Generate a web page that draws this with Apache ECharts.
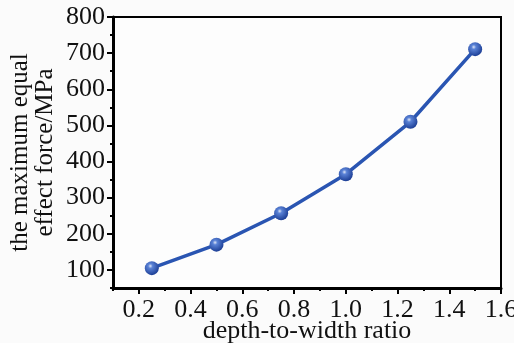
<!DOCTYPE html>
<html>
<head>
<meta charset="utf-8">
<script src="https://cdn.jsdelivr.net/npm/echarts@6/dist/echarts.min.js"></script>
<style>
  html, body { margin: 0; padding: 0; background: #fbfbfb; }
  #chart { width: 514px; height: 343px; }
</style>
</head>
<body>
<div id="chart"></div>
<script>
// depth-to-width ratio vs max equal effect force
var ratios = [0.25, 0.5, 0.75, 1.0, 1.25, 1.5];
var forces = [105, 170, 257, 365, 510, 711];
var xMajorTicks = [0.2, 0.4, 0.6, 0.8, 1.0, 1.2, 1.4, 1.6];
var yMajorTicks = [100, 200, 300, 400, 500, 600, 700, 800];

var font = 'Liberation Serif';
var myChart = echarts.init(document.getElementById('chart'));

var points = ratios.map(function (r, i) { return [r, forces[i]]; });

option = {
    backgroundColor: '#fbfbfb',
    animation: false,
    grid: {
        left: 113, right: 13, top: 17, bottom: 55,
        outerBoundsMode: 'none',
        show: true,
        borderColor: '#000',
        borderWidth: 2,
        backgroundColor: '#fdfdfd'
    },
    xAxis: [{
        type: 'value',
        min: 0.1, max: 1.6, interval: 0.1,
        position: 'bottom',
        name: 'depth-to-width ratio',
        nameLocation: 'middle',
        nameGap: 30,
        nameMoveOverlap: false,
        nameTextStyle: { fontFamily: font, fontSize: 26, color: '#111' },
        axisLine: { onZero: false, lineStyle: { color: '#000', width: 3 } },
        axisTick: { length: 3, lineStyle: { color: '#000', width: 2 } },
        axisLabel: {
            margin: 9,
            fontFamily: font, fontSize: 26, color: '#111',
            formatter: function (v) {
                var k = Math.round(v * 10);
                return k % 2 === 0 ? (k / 10).toFixed(1) : '';
            }
        },
        splitLine: { show: false }
    }, {
        // major ticks only
        type: 'value',
        min: 0.1, max: 1.6,
        position: 'bottom',
        axisLine: { show: false, onZero: false },
        axisTick: { customValues: xMajorTicks, length: 6, lineStyle: { color: '#000', width: 2 } },
        axisLabel: { show: false },
        splitLine: { show: false }
    }],
    yAxis: [{
        type: 'value',
        min: 50, max: 800, interval: 50,
        position: 'left',
        name: 'the maximum equal\neffect force/MPa',
        nameLocation: 'middle',
        nameGap: 55,
        nameMoveOverlap: false,
        nameTextStyle: { fontFamily: font, fontSize: 25, color: '#111', lineHeight: 25 },
        axisLine: { onZero: false, lineStyle: { color: '#000', width: 3 } },
        axisTick: { length: 3, lineStyle: { color: '#000', width: 2 } },
        axisLabel: {
            margin: 8,
            fontFamily: font, fontSize: 26, color: '#111',
            formatter: function (v) {
                return v % 100 === 0 ? String(v) : '';
            }
        },
        splitLine: { show: false }
    }, {
        type: 'value',
        min: 50, max: 800,
        position: 'left',
        axisLine: { show: false, onZero: false },
        axisTick: { customValues: yMajorTicks, length: 6, lineStyle: { color: '#000', width: 2 } },
        axisLabel: { show: false },
        splitLine: { show: false }
    }],
    series: [{
        type: 'line',
        xAxisIndex: 0,
        yAxisIndex: 0,
        data: points,
        symbol: 'circle',
        symbolSize: 14,
        lineStyle: { color: '#2a55b2', width: 3.5 },
        itemStyle: {
            color: new echarts.graphic.RadialGradient(0.4, 0.35, 0.65, [
                { offset: 0, color: '#dfe6f7' },
                { offset: 0.25, color: '#5a82d6' },
                { offset: 1, color: '#1d3f96' }
            ]),
            borderWidth: 0
        }
    }]
};
myChart.setOption(option);
</script>
</body>
</html>
